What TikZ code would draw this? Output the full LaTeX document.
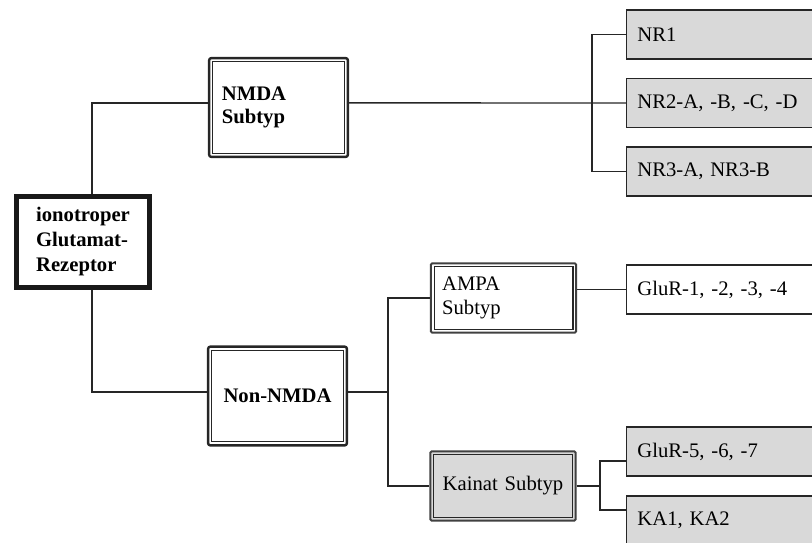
\documentclass[tikz,border=0pt]{standalone}
\usepackage{fontspec}
\setmainfont{Liberation Serif}
\usepackage{tikz}

\tikzset{
  link/.style={draw=black!85, line width=1.1pt},
  rootbox/.style={draw=black!90, line width=3.8pt, fill=white,
    font=\fontsize{15.5}{18.75}\selectfont\bfseries, align=left,
    minimum width=99.7pt, minimum height=68.2pt},
  mainbox/.style={draw=black!85, line width=1.8pt, rounded corners=1.5pt, fill=white,
    font=\fontsize{15.5}{17.5}\selectfont\bfseries, inner xsep=9.5pt,
    text width=85pt, minimum width=104pt, minimum height=74pt,
    path picture={\draw[black!85, line width=0.8pt, sharp corners]
      ([shift={(2.6pt,-2.6pt)}]path picture bounding box.north west) rectangle
      ([shift={(-2.6pt,2.6pt)}]path picture bounding box.south east);}},
  subbox/.style={draw=black!75, line width=1.5pt, rounded corners=1pt, fill=white,
    font=\fontsize{15.5}{17.5}\selectfont, inner xsep=8.5pt,
    text width=92pt, minimum width=109pt, minimum height=52pt,
    path picture={\draw[black!85, line width=0.8pt, sharp corners]
      ([shift={(2.4pt,-2.4pt)}]path picture bounding box.north west) rectangle
      ([shift={(-2.4pt,2.4pt)}]path picture bounding box.south east);}},
  leafbox/.style={draw=black!85, line width=1.1pt, fill=white, anchor=west,
    font=\fontsize{15.5}{17.5}\selectfont, inner xsep=8pt, align=left,
    text width=134pt, minimum height=37pt},
  grey/.style={fill=black!15}
}

\begin{document}
\begin{tikzpicture}[x=0.75pt, y=-0.75pt]
      \useasboundingbox (0,0) rectangle (812,542);
      \clip (0,0) rectangle (812,542);
      % bus points of the brackets
      \coordinate (rbus) at (92,242);
      \coordinate (nbus) at (592,103);
      \coordinate (abus) at (388,392);
      \coordinate (kbus) at (600,486);
      % root
      \draw (83,242) node[rootbox](root){ionotroper\\Glutamat-\\Rezeptor};
      % NMDA
      \draw (278.5,107.5) node[mainbox, align=left](nmda){NMDA\\Subtyp};
      \draw (626,34.5) node[leafbox, grey](nr1){NR1};
      \draw (626,103) node[leafbox, grey](nr2){NR2-A, -B, -C, -D};
      \draw (626,171.5) node[leafbox, grey](nr3){NR3-A, NR3-B};
      % Non-NMDA
      \draw (277.5,396) node[mainbox, align=center](nonnmda){Non-NMDA};
      \draw (503.5,298) node[subbox, align=left](ampa){AMPA\\Subtyp};
      \draw (503,486) node[subbox, grey, align=center](kainat){Kainat Subtyp};
      \draw (626,289.5) node[leafbox](glur1){GluR-1, -2, -3, -4};
      \draw (626,451.5) node[leafbox, grey](glur5){GluR-5, -6, -7};
      \draw (626,520.5) node[leafbox, grey](ka){KA1, KA2};
      % links
      \draw[link] (rbus |- root.north) |- ([yshift=3.4pt]nmda.west);
      \draw[link] (rbus |- root.south) |- ([yshift=3pt]nonnmda.west);
      \draw[link] ([yshift=3.4pt]nmda.east) -- (nr2.west);
      \draw[link] (nr1.west) -| (nbus) |- (nr3.west);
      \draw[link] ([yshift=3pt]nonnmda.east) -- (abus);
      \draw[link] (ampa.west) -| (abus) |- (kainat.west);
      \draw[link] (ampa.east |- glur1.west) -- (glur1.west);
      \draw[link] (kainat.east) -- (kbus);
      \draw[link] ([yshift=-7.1pt]glur5.west) -| (kbus) |- ([yshift=7.9pt]ka.west);
    \end{tikzpicture}
\end{document}
